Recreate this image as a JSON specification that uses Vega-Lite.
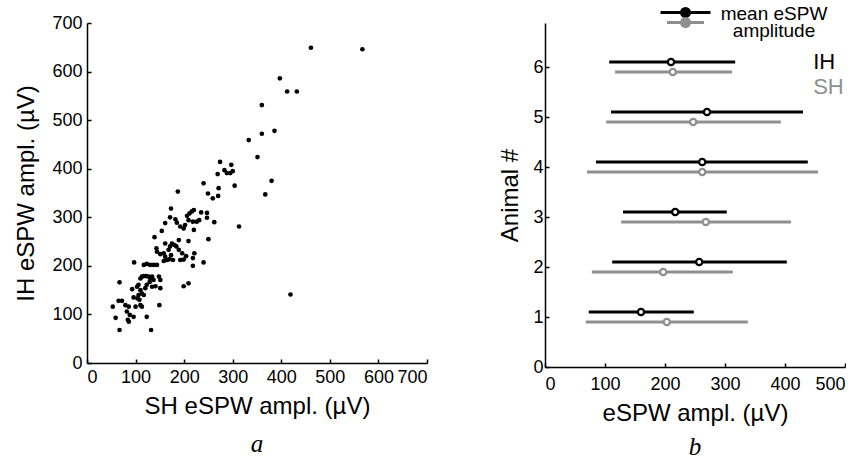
{
  "$schema": "https://vega.github.io/schema/vega-lite/v6.json",
  "background": "white",
  "padding": {"left": 14, "top": 3, "right": 0, "bottom": 0},
  "bounds": "flush",
  "spacing": 118,
  "config": {
    "font": "Liberation Sans",
    "view": {"stroke": null},
    "axis": {
      "grid": false,
      "domainColor": "black",
      "domainWidth": 1.5,
      "tickColor": "black",
      "tickWidth": 1.5,
      "tickSize": -4,
      "labelColor": "black",
      "labelFontSize": 18,
      "titleColor": "black",
      "titleFontSize": 24,
      "titleFontWeight": "normal"
    }
  },
  "hconcat": [
    {
      "width": 340,
      "height": 340,
      "title": {"text": "a", "orient": "bottom", "font": "Liberation Serif", "fontStyle": "italic", "fontSize": 25, "fontWeight": "normal", "offset": 14},
      "data": {"values": [
        {"sh": 461, "ih": 649}, {"sh": 567, "ih": 646}, {"sh": 397, "ih": 586}, {"sh": 412, "ih": 559}, {"sh": 432, "ih": 559},
        {"sh": 360, "ih": 531}, {"sh": 360, "ih": 472}, {"sh": 386, "ih": 478}, {"sh": 333, "ih": 459}, {"sh": 351, "ih": 424},
        {"sh": 380, "ih": 375}, {"sh": 367, "ih": 347}, {"sh": 313, "ih": 281}, {"sh": 419, "ih": 141},
        {"sh": 187, "ih": 353}, {"sh": 240, "ih": 370}, {"sh": 249, "ih": 349}, {"sh": 259, "ih": 339}, {"sh": 270, "ih": 344},
        {"sh": 271, "ih": 360}, {"sh": 269, "ih": 389}, {"sh": 274, "ih": 414}, {"sh": 283, "ih": 397}, {"sh": 288, "ih": 391},
        {"sh": 297, "ih": 408}, {"sh": 295, "ih": 391}, {"sh": 300, "ih": 395}, {"sh": 304, "ih": 365},
        {"sh": 53, "ih": 116}, {"sh": 59, "ih": 93}, {"sh": 67, "ih": 166}, {"sh": 67, "ih": 68}, {"sh": 65, "ih": 128},
        {"sh": 72, "ih": 128}, {"sh": 79, "ih": 119}, {"sh": 86, "ih": 116}, {"sh": 82, "ih": 106}, {"sh": 88, "ih": 99},
        {"sh": 84, "ih": 89}, {"sh": 86, "ih": 85}, {"sh": 96, "ih": 95}, {"sh": 93, "ih": 152}, {"sh": 96, "ih": 135},
        {"sh": 100, "ih": 116}, {"sh": 104, "ih": 133}, {"sh": 108, "ih": 130}, {"sh": 110, "ih": 119}, {"sh": 113, "ih": 116},
        {"sh": 103, "ih": 157}, {"sh": 106, "ih": 161}, {"sh": 110, "ih": 150}, {"sh": 106, "ih": 140}, {"sh": 113, "ih": 143},
        {"sh": 117, "ih": 140}, {"sh": 123, "ih": 95}, {"sh": 132, "ih": 68}, {"sh": 97, "ih": 207}, {"sh": 117, "ih": 202},
        {"sh": 123, "ih": 204}, {"sh": 130, "ih": 202}, {"sh": 137, "ih": 202}, {"sh": 144, "ih": 202}, {"sh": 110, "ih": 174},
        {"sh": 113, "ih": 178}, {"sh": 117, "ih": 179}, {"sh": 122, "ih": 179}, {"sh": 127, "ih": 178}, {"sh": 130, "ih": 174},
        {"sh": 134, "ih": 178}, {"sh": 137, "ih": 171}, {"sh": 129, "ih": 167}, {"sh": 123, "ih": 161}, {"sh": 120, "ih": 154},
        {"sh": 134, "ih": 157}, {"sh": 141, "ih": 158}, {"sh": 148, "ih": 178}, {"sh": 151, "ih": 171}, {"sh": 151, "ih": 154},
        {"sh": 149, "ih": 119}, {"sh": 139, "ih": 259}, {"sh": 143, "ih": 236}, {"sh": 144, "ih": 229}, {"sh": 151, "ih": 224},
        {"sh": 158, "ih": 226}, {"sh": 161, "ih": 219}, {"sh": 158, "ih": 210}, {"sh": 165, "ih": 212}, {"sh": 170, "ih": 214},
        {"sh": 173, "ih": 222}, {"sh": 177, "ih": 212}, {"sh": 168, "ih": 233}, {"sh": 171, "ih": 240}, {"sh": 175, "ih": 246},
        {"sh": 180, "ih": 243}, {"sh": 184, "ih": 240}, {"sh": 189, "ih": 233}, {"sh": 192, "ih": 212}, {"sh": 196, "ih": 226},
        {"sh": 199, "ih": 213}, {"sh": 204, "ih": 220}, {"sh": 209, "ih": 251}, {"sh": 189, "ih": 253}, {"sh": 161, "ih": 246},
        {"sh": 154, "ih": 272}, {"sh": 161, "ih": 288}, {"sh": 171, "ih": 300}, {"sh": 173, "ih": 318}, {"sh": 182, "ih": 296},
        {"sh": 185, "ih": 289}, {"sh": 192, "ih": 281}, {"sh": 199, "ih": 277}, {"sh": 202, "ih": 284}, {"sh": 206, "ih": 303},
        {"sh": 211, "ih": 308}, {"sh": 216, "ih": 312}, {"sh": 220, "ih": 315}, {"sh": 209, "ih": 294}, {"sh": 218, "ih": 291},
        {"sh": 226, "ih": 291}, {"sh": 231, "ih": 294}, {"sh": 235, "ih": 310}, {"sh": 247, "ih": 309}, {"sh": 247, "ih": 299},
        {"sh": 262, "ih": 290}, {"sh": 250, "ih": 255}, {"sh": 220, "ih": 274}, {"sh": 221, "ih": 226}, {"sh": 218, "ih": 216},
        {"sh": 218, "ih": 200}, {"sh": 199, "ih": 158}, {"sh": 209, "ih": 164}, {"sh": 240, "ih": 207}
      ]},
      "mark": {"type": "circle", "size": 22, "color": "black", "opacity": 1},
      "encoding": {
        "x": {"field": "sh", "type": "quantitative", "scale": {"domain": [0, 700], "nice": false},
              "axis": {"values": [0, 100, 200, 300, 400, 500, 600, 700], "title": "SH eSPW ampl. (µV)", "labelPadding": 9, "titlePadding": 8}},
        "y": {"field": "ih", "type": "quantitative", "scale": {"domain": [0, 700], "nice": false},
              "axis": {"values": [0, 100, 200, 300, 400, 500, 600, 700], "title": "IH eSPW ampl. (µV)", "labelPadding": 9, "titlePadding": 13}}
      }
    },
    {
      "width": 300,
      "height": 344,
      "title": {"text": "b", "orient": "bottom", "font": "Liberation Serif", "fontStyle": "italic", "fontSize": 25, "fontWeight": "normal", "offset": 10},
      "data": {"values": [
        {"animal": 6, "series": "IH", "mean": 210, "lo": 107, "hi": 317},
        {"animal": 6, "series": "SH", "mean": 213, "lo": 117, "hi": 312},
        {"animal": 5, "series": "IH", "mean": 270, "lo": 110, "hi": 430},
        {"animal": 5, "series": "SH", "mean": 247, "lo": 102, "hi": 393},
        {"animal": 4, "series": "IH", "mean": 262, "lo": 85, "hi": 438},
        {"animal": 4, "series": "SH", "mean": 262, "lo": 70, "hi": 455},
        {"animal": 3, "series": "IH", "mean": 217, "lo": 130, "hi": 303},
        {"animal": 3, "series": "SH", "mean": 268, "lo": 127, "hi": 410},
        {"animal": 2, "series": "IH", "mean": 257, "lo": 112, "hi": 403},
        {"animal": 2, "series": "SH", "mean": 197, "lo": 78, "hi": 313},
        {"animal": 1, "series": "IH", "mean": 160, "lo": 73, "hi": 248},
        {"animal": 1, "series": "SH", "mean": 203, "lo": 68, "hi": 338}
      ]},
      "encoding": {
        "y": {"field": "animal", "type": "quantitative", "scale": {"domain": [0, 6.88], "nice": false},
              "axis": {"values": [0, 1, 2, 3, 4, 5, 6], "title": "Animal #", "labelPadding": 6, "titlePadding": 10}}
      },
      "layer": [
        {
          "transform": [{"filter": "datum.series === 'IH'"}],
          "mark": {"type": "rule", "strokeWidth": 3, "yOffset": -5},
          "encoding": {
            "x": {"field": "lo", "type": "quantitative", "scale": {"domain": [0, 500], "nice": false},
                  "axis": {"values": [0, 100, 200, 300, 400, 500], "title": "eSPW ampl. (µV)", "labelPadding": 12, "titlePadding": 8}},
            "x2": {"field": "hi"},
            "color": {"field": "series", "type": "nominal", "scale": {"domain": ["IH", "SH"], "range": ["black", "#8f8f8f"]},
                      "legend": {
                        "orient": "none", "legendX": 589, "legendY": -20,
                        "title": null,
                        "labelExpr": "datum.label === 'IH' ? 'mean eSPW' : 'amplitude'",
                        "labelFontSize": 19, "labelColor": "black", "labelAlign": "center", "labelOffset": 79,
                        "symbolSize": 100, "symbolStrokeWidth": 3, "rowPadding": -13,
                        "encode": {
                          "labels": {"update": {
                            "dy": {"signal": "datum.label === 'IH' ? 1 : -3"}
                          }},
                          "symbols": {"update": {
                            "shape": {"signal": "datum.label === 'IH' ? 'M-5,0H5M-0.8,0A0.8,0.8,0,1,1,0.8,0A0.8,0.8,0,1,1,-0.8,0Z' : 'M-3.7,-2.2H3.7M-0.8,-2.2A0.8,0.8,0,1,1,0.8,-2.2A0.8,0.8,0,1,1,-0.8,-2.2Z'"},
                            "fill": {"signal": "datum.label === 'IH' ? 'black' : '#8f8f8f'"},
                            "stroke": {"signal": "datum.label === 'IH' ? 'black' : '#8f8f8f'"},
                            "opacity": {"value": 1}
                          }}
                        }
                      }}
          }
        },
        {
          "transform": [{"filter": "datum.series === 'SH'"}],
          "mark": {"type": "rule", "strokeWidth": 3, "yOffset": 5},
          "encoding": {
            "x": {"field": "lo", "type": "quantitative"},
            "x2": {"field": "hi"},
            "color": {"field": "series", "type": "nominal"}
          }
        },
        {
          "transform": [{"filter": "datum.series === 'IH'"}],
          "mark": {"type": "point", "shape": "circle", "filled": false, "fill": "white", "fillOpacity": 1, "opacity": 1, "size": 40, "strokeWidth": 2.3, "yOffset": -5},
          "encoding": {
            "x": {"field": "mean", "type": "quantitative"},
            "color": {"field": "series", "type": "nominal"}
          }
        },
        {
          "transform": [{"filter": "datum.series === 'SH'"}],
          "mark": {"type": "point", "shape": "circle", "filled": false, "fill": "white", "fillOpacity": 1, "opacity": 1, "size": 40, "strokeWidth": 2.3, "yOffset": 5},
          "encoding": {
            "x": {"field": "mean", "type": "quantitative"},
            "color": {"field": "series", "type": "nominal"}
          }
        },
        {
          "data": {"values": [{"series": "IH", "tx": 447, "ty": 6.1}, {"series": "SH", "tx": 447, "ty": 5.6}]},
          "mark": {"type": "text", "align": "left", "baseline": "middle", "fontSize": 22},
          "encoding": {
            "x": {"field": "tx", "type": "quantitative"},
            "y": {"field": "ty", "type": "quantitative"},
            "text": {"field": "series"},
            "color": {"field": "series", "type": "nominal"}
          }
        }
      ]
    }
  ]
}
